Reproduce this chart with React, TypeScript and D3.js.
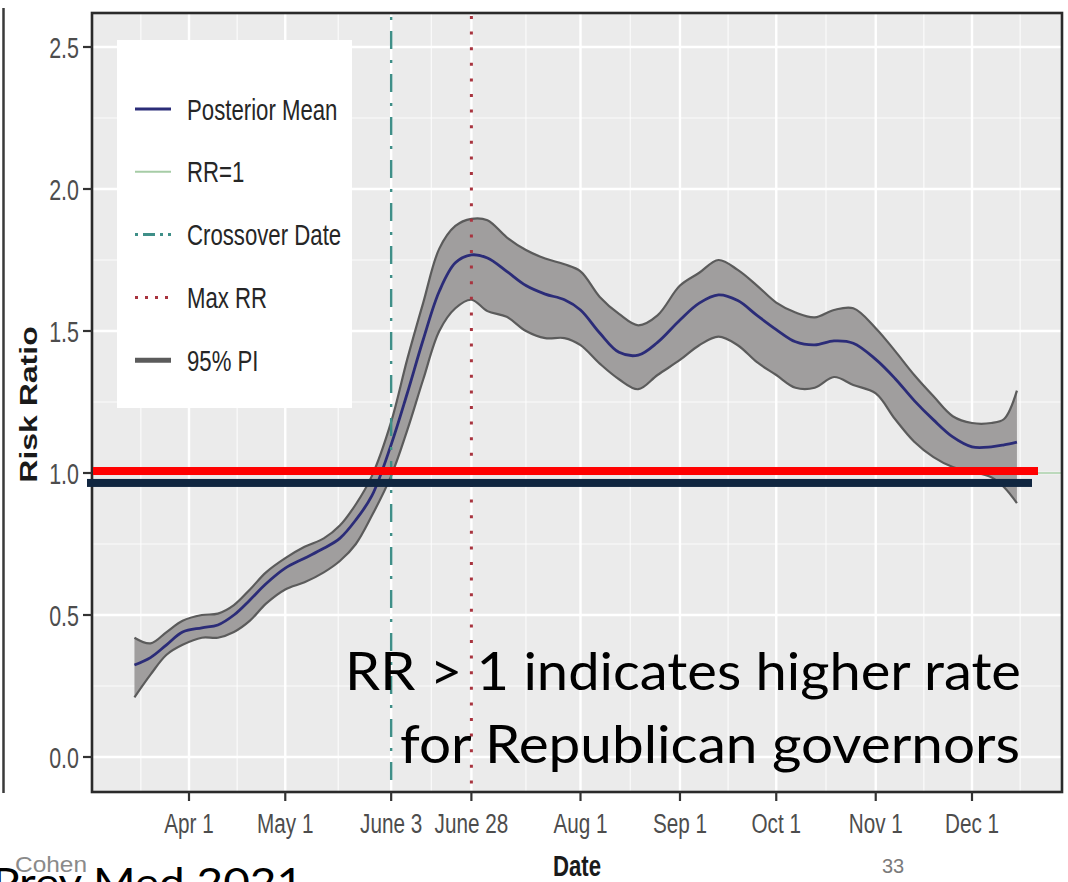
import React from "react";
import * as d3 from "d3";

// Posterior risk ratio (Republican vs Democratic governors) by date, 2020
const dates = [
  "2020-03-15", "2020-03-20", "2020-03-25", "2020-03-30", "2020-04-05", "2020-04-10",
  "2020-04-15", "2020-04-20", "2020-04-25", "2020-05-01", "2020-05-07", "2020-05-13",
  "2020-05-18", "2020-05-23", "2020-05-28", "2020-06-03", "2020-06-08", "2020-06-13",
  "2020-06-18", "2020-06-23", "2020-06-28", "2020-07-03", "2020-07-09", "2020-07-15",
  "2020-07-21", "2020-07-27", "2020-08-01", "2020-08-07", "2020-08-13", "2020-08-19",
  "2020-08-25", "2020-09-01", "2020-09-07", "2020-09-13", "2020-09-19", "2020-09-25",
  "2020-10-01", "2020-10-07", "2020-10-13", "2020-10-19", "2020-10-25", "2020-11-01",
  "2020-11-07", "2020-11-13", "2020-11-19", "2020-11-25", "2020-12-01", "2020-12-07",
  "2020-12-11", "2020-12-15",
];
const meanRR = [
  0.324, 0.35, 0.395, 0.44, 0.455, 0.465, 0.5, 0.553, 0.61, 0.665, 0.7, 0.735,
  0.77, 0.835, 0.92, 1.1, 1.28, 1.47, 1.64, 1.74, 1.768, 1.757, 1.71, 1.66,
  1.63, 1.61, 1.574, 1.493, 1.425, 1.415, 1.46, 1.539, 1.598, 1.627, 1.607, 1.555,
  1.505, 1.462, 1.451, 1.465, 1.457, 1.4, 1.333, 1.255, 1.187, 1.127, 1.092, 1.092,
  1.099, 1.109,
];
const lowerPI = [
  0.21, 0.29, 0.36, 0.395, 0.42, 0.42, 0.44, 0.48, 0.54, 0.59, 0.615, 0.65,
  0.69, 0.75, 0.85, 0.99, 1.15, 1.33, 1.5, 1.58, 1.61, 1.57, 1.55, 1.5,
  1.475, 1.475, 1.45, 1.385, 1.33, 1.295, 1.345, 1.398, 1.45, 1.48, 1.45, 1.39,
  1.345, 1.3, 1.3, 1.338, 1.31, 1.28, 1.19, 1.11, 1.056, 1.021, 1.004, 0.985,
  0.95, 0.894,
];
const upperPI = [
  0.42, 0.4, 0.44, 0.48, 0.5, 0.505, 0.535, 0.59, 0.65, 0.7, 0.74, 0.77,
  0.815, 0.89, 0.99, 1.18, 1.4, 1.6, 1.79, 1.87, 1.895, 1.89, 1.83, 1.785,
  1.755, 1.735, 1.71, 1.62, 1.56, 1.52, 1.555, 1.66, 1.705, 1.75, 1.715, 1.66,
  1.6, 1.565, 1.548, 1.574, 1.58, 1.51, 1.43, 1.345, 1.27, 1.2, 1.176, 1.176,
  1.19, 1.29,
];

const xTickDates = [
  "2020-04-01", "2020-05-01", "2020-06-03", "2020-06-28", "2020-08-01",
  "2020-09-01", "2020-10-01", "2020-11-01", "2020-12-01",
];
const xTickLabels = ["Apr 1", "May 1", "June 3", "June 28", "Aug 1", "Sep 1", "Oct 1", "Nov 1", "Dec 1"];
const yTicks = [0, 0.5, 1.0, 1.5, 2.0, 2.5];
const yMinor = [0.25, 0.75, 1.25, 1.75, 2.25];

const crossoverDate = "2020-06-03";
const maxRRDate = "2020-06-28";
const referenceRR = 1;

const legendLabels = ["Posterior Mean", "RR=1", "Crossover Date", "Max RR", "95% PI"];

const parse = d3.timeParse("%Y-%m-%d");

const W = 1068;
const H = 882;
const panel = { left: 92, right: 1062, top: 13, bottom: 792 };

const C = {
  bg: "#ebebeb",
  grid: "#ffffff",
  band: "#a09e9e",
  bandEdge: "#5b5b5b",
  mean: "#2b2c78",
  teal: "#3f8f88",
  maroon: "#a8343f",
  green: "#a6cca6",
  tick: "#4d4d4d",
  axis: "#2a2a2a",
};

const SX = 0.74; // horizontal squeeze of the plot lettering

function SText(props: {
  x: number; y: number; size: number; anchor?: string; weight?: string | number;
  fill?: string; children: React.ReactNode;
}) {
  const { x, y, size, anchor = "start", weight = "normal", fill = "#000", children } = props;
  return (
    <g transform={`translate(${x},${y}) scale(${SX},1)`}>
      <text
        textAnchor={anchor as any}
        fontFamily="'Liberation Sans', Arial, sans-serif"
        fontSize={size}
        fontWeight={weight as any}
        fill={fill}
      >
        {children}
      </text>
    </g>
  );
}

export default function App() {
  const dts = dates.map((d) => parse(d) as Date);
  const tickDts = xTickDates.map((d) => parse(d) as Date);

  // linear time scale anchored on Apr 1 and Dec 1, extending to the panel edges
  const x = d3.scaleTime().domain([parse("2020-04-01") as Date, parse("2020-12-01") as Date]).range([189, 972]);
  const y = d3.scaleLinear().domain([0, 2.5]).range([757, 47]);

  // minor breaks at midpoints of the major breaks, plus one half-step on each side
  const tickX = tickDts.map((d) => x(d));
  const minorX: number[] = [];
  minorX.push(tickX[0] - (tickX[1] - tickX[0]) / 2);
  for (let i = 0; i < tickX.length - 1; i++) minorX.push((tickX[i] + tickX[i + 1]) / 2);
  minorX.push(tickX[tickX.length - 1] + (tickX[tickX.length - 1] - tickX[tickX.length - 2]) / 2);

  const pts = dts.map((d, i) => ({ d, m: meanRR[i], lo: lowerPI[i], hi: upperPI[i] }));
  const curve = d3.curveCatmullRom.alpha(0.5);
  const area = d3.area<any>().x((p) => x(p.d)).y0((p) => y(p.lo)).y1((p) => y(p.hi)).curve(curve);
  const lineM = d3.line<any>().x((p) => x(p.d)).y((p) => y(p.m)).curve(curve);
  const lineLo = d3.line<any>().x((p) => x(p.d)).y((p) => y(p.lo)).curve(curve);
  const lineHi = d3.line<any>().x((p) => x(p.d)).y((p) => y(p.hi)).curve(curve);

  const xCross = x(parse(crossoverDate) as Date);
  const xMax = x(parse(maxRRDate) as Date);

  const legendY0 = 109;
  const legendStep = 62.8;

  return (
    <svg
      width={W}
      height={H}
      viewBox={`0 0 ${W} ${H}`}
      style={{ position: "absolute", left: 0, top: 0, background: "#fff" }}
    >
      <defs>
        <clipPath id="panel-clip">
          <rect x={panel.left} y={panel.top} width={panel.right - panel.left} height={panel.bottom - panel.top} />
        </clipPath>
      </defs>

      {/* edge of the neighbouring figure */}
      <line x1={3.5} x2={3.5} y1={8} y2={793} stroke="#3a3a3a" strokeWidth={2.5} />

      {/* panel background */}
      <rect x={panel.left} y={panel.top} width={panel.right - panel.left} height={panel.bottom - panel.top} fill={C.bg} />

      <g clipPath="url(#panel-clip)">
        {/* minor grid */}
        {yMinor.map((v) => (
          <line key={"ym" + v} x1={panel.left} x2={panel.right} y1={y(v)} y2={y(v)} stroke={C.grid} strokeWidth={1.2} opacity={0.8} />
        ))}
        {minorX.map((vx, i) => (
          <line key={"xm" + i} x1={vx} x2={vx} y1={panel.top} y2={panel.bottom} stroke={C.grid} strokeWidth={1.2} opacity={0.8} />
        ))}
        {/* major grid */}
        {yTicks.map((v) => (
          <line key={"yM" + v} x1={panel.left} x2={panel.right} y1={y(v)} y2={y(v)} stroke={C.grid} strokeWidth={2.4} />
        ))}
        {tickX.map((vx, i) => (
          <line key={"xM" + i} x1={vx} x2={vx} y1={panel.top} y2={panel.bottom} stroke={C.grid} strokeWidth={2.4} />
        ))}

        {/* RR = 1 reference */}
        <line x1={panel.left} x2={panel.right} y1={y(referenceRR)} y2={y(referenceRR)} stroke={C.green} strokeWidth={1.5} />

        {/* 95% posterior interval */}
        <path d={area(pts) as string} fill={C.band} />
        <path d={lineHi(pts) as string} fill="none" stroke={C.bandEdge} strokeWidth={2.2} />
        <path d={lineLo(pts) as string} fill="none" stroke={C.bandEdge} strokeWidth={2.2} />

        {/* posterior mean */}
        <path d={lineM(pts) as string} fill="none" stroke={C.mean} strokeWidth={2.8} />

        {/* crossover and maximum dates */}
        <line x1={xCross} x2={xCross} y1={panel.top} y2={panel.bottom} stroke={C.teal} strokeWidth={2.4} strokeDasharray="3 11 18 11" strokeDashoffset={-4} />
        <line x1={xMax} x2={xMax} y1={panel.top} y2={panel.bottom} stroke={C.maroon} strokeWidth={3} strokeDasharray="3 12.6" strokeDashoffset={-3} />
      </g>

      {/* panel border */}
      <rect x={panel.left} y={panel.top} width={panel.right - panel.left} height={panel.bottom - panel.top} fill="none" stroke={C.axis} strokeWidth={2.6} />

      {/* y axis */}
      {yTicks.map((v) => (
        <g key={"yt" + v}>
          <line x1={83} x2={panel.left} y1={y(v)} y2={y(v)} stroke="#333" strokeWidth={2.2} />
          <SText x={79} y={y(v) + 10.5} size={29} anchor="end" fill={C.tick}>{v.toFixed(1)}</SText>
        </g>
      ))}

      {/* x axis */}
      {tickX.map((vx, i) => (
        <g key={"xt" + i}>
          <line x1={vx} x2={vx} y1={panel.bottom} y2={panel.bottom + 9} stroke="#333" strokeWidth={2.2} />
          <SText x={vx} y={833} size={28} anchor="middle" fill={C.tick}>{xTickLabels[i]}</SText>
        </g>
      ))}

      {/* axis titles */}
      <SText x={(panel.left + panel.right) / 2} y={876} size={30} anchor="middle" weight="bold" fill="#1a1a1a">Date</SText>
      <g transform={`translate(37,${(panel.top + panel.bottom) / 2 + 2}) rotate(-90) scale(1,${SX})`}>
        <text textAnchor="middle" fontFamily="'Liberation Sans', Arial, sans-serif" fontSize={32} fontWeight="bold" fill="#1a1a1a">
          Risk Ratio
        </text>
      </g>

      {/* legend */}
      <rect x={117} y={40} width={235} height={368} fill="#ffffff" />
      {legendLabels.map((lab, i) => {
        const cy = legendY0 + i * legendStep;
        let key: React.ReactNode = null;
        if (i === 0) key = <line x1={135} x2={171} y1={cy} y2={cy} stroke={C.mean} strokeWidth={3} />;
        if (i === 1) key = <line x1={135} x2={171} y1={cy} y2={cy} stroke={C.green} strokeWidth={2} />;
        if (i === 2) key = <line x1={135} x2={171} y1={cy} y2={cy} stroke={C.teal} strokeWidth={3} strokeDasharray="3 5 12 5" />;
        if (i === 3) key = <line x1={135} x2={171} y1={cy} y2={cy} stroke={C.maroon} strokeWidth={3} strokeDasharray="3 7" />;
        if (i === 4) key = <line x1={135} x2={171} y1={cy} y2={cy} stroke={C.bandEdge} strokeWidth={5} />;
        return (
          <g key={"lg" + i}>
            {key}
            <SText x={187} y={cy + 10.5} size={30} fill="#262626">{lab}</SText>
          </g>
        );
      })}

      {/* slide overlays marking RR = 1 */}
      <rect x={93} y={y(1.007) - 4} width={945} height={8} fill="#ff0000" />
      <rect x={87} y={y(0.965) - 4} width={945} height={8} fill="#102640" />

      {/* annotation */}
      <text x={345} y={690} fontFamily="Lato, 'Open Sans', sans-serif" fontSize={52} fill="#000" textLength={676} lengthAdjust="spacingAndGlyphs">
        RR &gt; 1 indicates higher rate
      </text>
      <text x={400} y={763} fontFamily="Lato, 'Open Sans', sans-serif" fontSize={52} fill="#000" textLength={620} lengthAdjust="spacingAndGlyphs">
        for Republican governors
      </text>

      {/* slide footer */}
      <text x={-8} y={897} fontFamily="Lato, 'Open Sans', sans-serif" fontSize={40} fill="#000" textLength={311} lengthAdjust="spacingAndGlyphs">
        Prev Med 2021
      </text>
      <text x={15} y={872} fontFamily="'Liberation Sans', Arial, sans-serif" fontSize={22} fill="#8a8a8a" textLength={72} lengthAdjust="spacingAndGlyphs">Cohen</text>
      <text x={893} y={873} textAnchor="middle" fontFamily="'Liberation Sans', Arial, sans-serif" fontSize={20} fill="#7a7a7a">33</text>
    </svg>
  );
}
